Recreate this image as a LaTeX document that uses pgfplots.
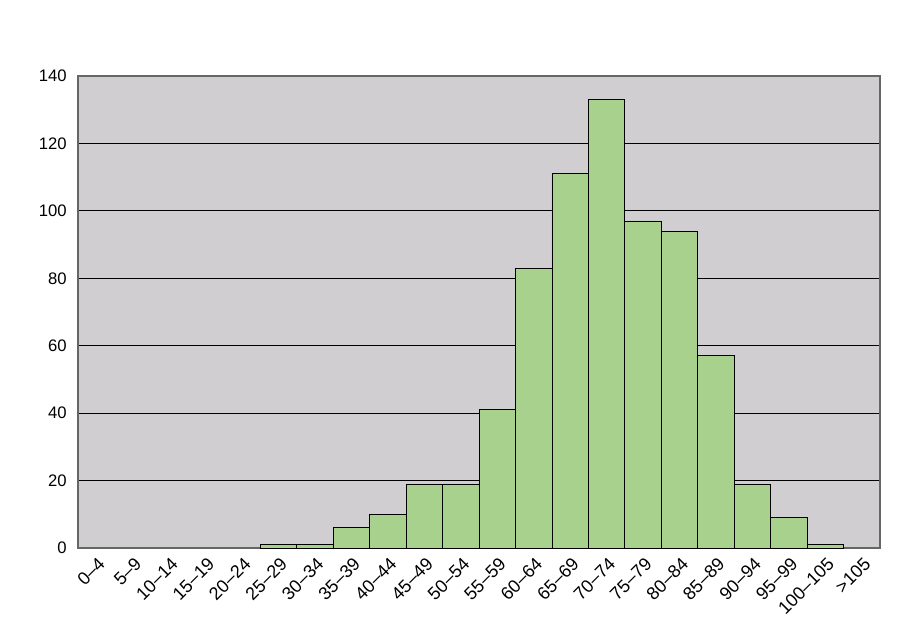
\documentclass[border=0pt]{standalone}
\usepackage{pgfplots}
\pgfplotsset{compat=1.18}
\usepackage{fontspec}
\setmainfont{Liberation Sans}
\definecolor{bggray}{RGB}{208,206,208}
\definecolor{bargreen}{RGB}{169,209,142}
\begin{document}
\begin{tikzpicture}
\useasboundingbox (0,0) rectangle (690pt,480pt);
\begin{axis}[
  at={(58.5pt,69pt)}, anchor=south west,
  scale only axis, width=601.5pt, height=354pt,
  xmin=-0.5, xmax=21.5, ymin=0, ymax=140,
  ytick={0,20,40,60,80,100,120,140},
  xtick={0,...,21},
  xticklabels={0--4,5--9,10--14,15--19,20--24,25--29,30--34,35--39,40--44,45--49,50--54,55--59,60--64,65--69,70--74,75--79,80--84,85--89,90--94,95--99,100--105,>105},
  xticklabel style={rotate=45, anchor=north east, inner sep=1pt, font=\fontsize{13.5pt}{15pt}\selectfont, xshift=-3pt, yshift=-4pt},
  yticklabel style={font=\fontsize{12.5pt}{14pt}\selectfont, xshift=-5pt},
  /pgf/number format/assume math mode=true,
  major tick length=0pt,
  ymajorgrids, grid style={black, line width=0.6pt},
  axis line style={draw=black!60, line width=0.8pt},
  axis background/.style={fill=bggray},
]
\addplot[ybar, bar width=1, bar shift=0pt, fill=bargreen, draw=black, line width=0.5pt]
coordinates {(5,1) (6,1) (7,6) (8,10) (9,19) (10,19) (11,41) (12,83) (13,111) (14,133) (15,97) (16,94) (17,57) (18,19) (19,9) (20,1)};
\end{axis}
\end{tikzpicture}
\end{document}
